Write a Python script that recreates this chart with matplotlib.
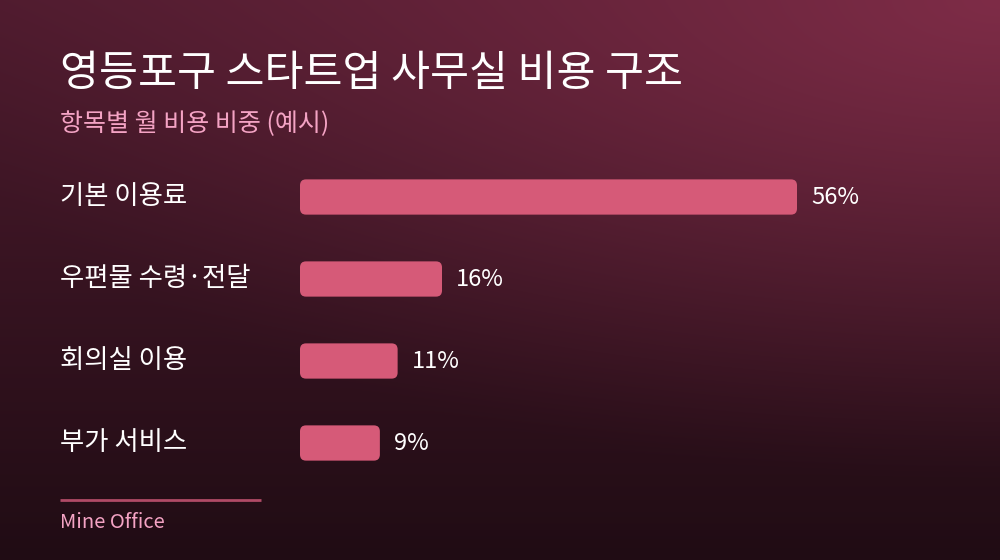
import matplotlib.pyplot as plt
import numpy as np
from matplotlib.patches import FancyBboxPatch
from matplotlib.transforms import blended_transform_factory, offset_copy

plt.rcParams['font.family'] = ['Noto Sans CJK KR', 'DejaVu Sans']

# 데이터
categories = ['기본 이용료', '우편물 수령·전달', '회의실 이용', '부가 서비스']
shares = [56, 16, 11, 9]
value_labels = ['56%', '16%', '11%', '9%']

W, H = 1000, 560
fig = plt.figure(figsize=(W / 100, H / 100), dpi=100)

# 배경: 위->아래 어두워지는 그라데이션 + 오른쪽 위 빛
bg = fig.add_axes([0, 0, 1, 1])
yy, xx = np.mgrid[0:H, 0:W]
top = np.array([0x4e, 0x1b, 0x2e]) / 255
bottom = np.array([0x20, 0x0c, 0x14]) / 255
glow = np.array([0x7e, 0x2c, 0x47]) / 255
ty = (yy / H)[..., None]
base = top * (1 - ty) + bottom * ty
d = np.sqrt(((xx - W) / 1100.0) ** 2 + (yy / 480.0) ** 2)
g = (np.clip(1 - d, 0, 1) ** 1.2)[..., None]
img = base * (1 - g) + glow * g
bg.imshow(img, aspect='auto', extent=[0, W, H, 0])
bg.set_xlim(0, W)
bg.set_ylim(H, 0)
bg.axis('off')

# 제목
bg.text(60, 74, '영등포구 스타트업 사무실 비용 구조', color='white', fontsize=30.5,
        fontweight='medium', va='center', ha='left')
bg.text(60, 124, '항목별 월 비용 비중 (예시)', color='#f4a3c4', fontsize=18,
        va='center', ha='left')

# 막대 영역
x0, x1 = 300, 797
ax = fig.add_axes([x0 / W, 76 / H, (x1 - x0) / W, 328 / H])
ax.set_xlim(0, max(shares))
ax.set_ylim(len(categories) - 0.5, -0.5)
ax.axis('off')

px_per_x = (x1 - x0) / max(shares)
px_per_y = 82
bh = 0.43
for i, v in enumerate(shares):
    p = FancyBboxPatch((0, i - bh / 2), v, bh,
                       boxstyle='round,pad=0,rounding_size=%.3f' % (6 / px_per_x),
                       mutation_aspect=px_per_x / px_per_y,
                       facecolor='#d65a78', edgecolor='none')
    ax.add_patch(p)
    tr = offset_copy(ax.transData, fig=fig, x=14 * 0.72, y=0, units='points')
    ax.text(v, i, value_labels[i], transform=tr, color='white', fontsize=17,
            va='center', ha='left')

lab_tr = blended_transform_factory(fig.transFigure, ax.transData)
for i, c in enumerate(categories):
    ax.text(60 / W, i, c, transform=lab_tr, color='white', fontsize=19,
            va='center', ha='left')

# 하단 출처
bg.plot([60, 261], [500, 500], color='#b04a66', lw=2, solid_capstyle='butt')
bg.text(60, 522, 'Mine Office', color='#f4a3c4', fontsize=14.5,
        va='center', ha='left')

fig.savefig('out.png', dpi=100)
